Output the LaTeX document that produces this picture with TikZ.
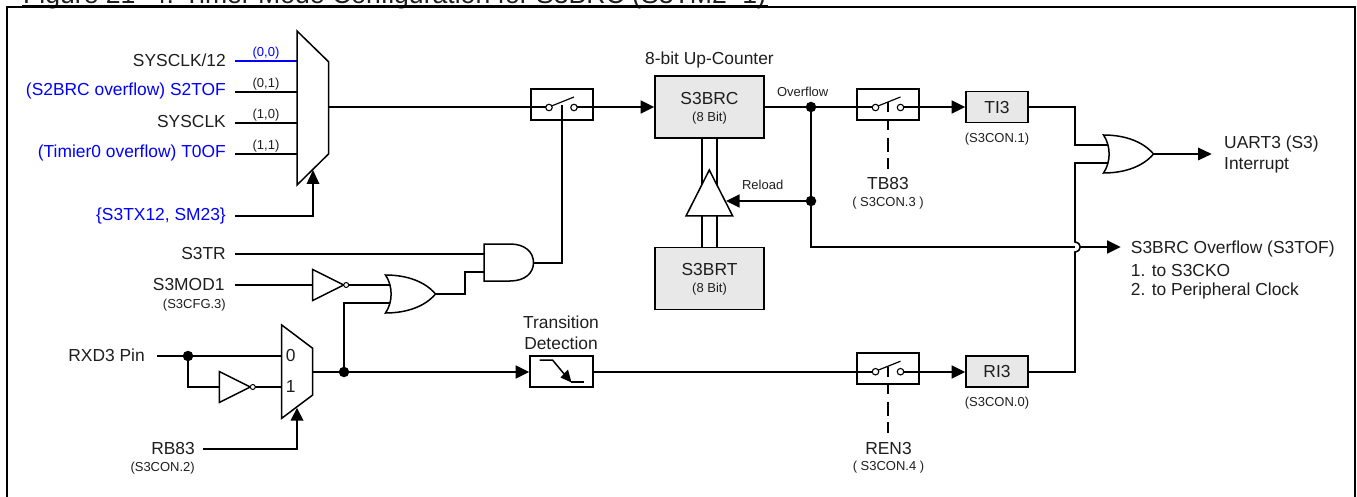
\documentclass[tikz,border=0pt]{standalone}
\usepackage{fontspec}
\setmainfont{Liberation Sans}
\usetikzlibrary{arrows.meta}
\definecolor{blu}{RGB}{0,0,255}
\definecolor{boxg}{RGB}{232,232,232}
\definecolor{txt}{RGB}{30,30,30}
\tikzset{
  x=1pt,y=-1pt,
  wire/.style={line width=1.6pt,black},
  arr/.style={wire,-{Triangle[length=13.5pt,width=13pt]}},
  gate/.style={line width=1.5pt,draw=black,fill=white,line join=miter},
  regbox/.style={draw=black,line width=1.6pt,fill=boxg,inner sep=0pt,align=center,font=\fontsize{17.4}{20}\selectfont,text=txt},
  swbox/.style={draw=black,line width=1.6pt,minimum width=62pt,minimum height=31pt,inner sep=0pt},
  big/.style={font=\fontsize{17.4}{20}\selectfont,inner sep=0pt,text=txt},
  small/.style={font=\fontsize{13}{15}\selectfont,inner sep=0pt,text=txt},
  lab/.style={big,anchor=east},
  dot/.style={circle,fill=black,inner sep=0pt,minimum size=10.5pt},
  dashw/.style={line width=1.2pt,dash pattern=on 9pt off 8pt on 14pt off 6pt on 11pt off 30pt},
  ocirc/.style={circle,draw=black,line width=1.1pt,fill=white,inner sep=0pt,minimum size=6.5pt},
  bubble/.style={circle,draw=black,line width=1pt,fill=white,inner sep=0pt,minimum size=5pt},
}
\newcommand{\invg}[2]{%
  \draw[gate] (#1,#2-15.5) -- (#1+31,#2) -- (#1,#2+15.5) -- cycle;
  \node[bubble] at (#1+33.5,#2) {};
}
\newcommand{\orgate}[2]{%
  \draw[gate] (#1,#2-19) .. controls (#1+22,#2-19) and (#1+40,#2-12) .. (#1+50,#2)
     .. controls (#1+40,#2+12) and (#1+22,#2+19) .. (#1,#2+19)
     .. controls (#1+7.5,#2+8) and (#1+7.5,#2-8) .. (#1,#2-19) -- cycle;
}
\newcommand{\swcontacts}[2]{%
  \node[ocirc] at (#1-13,#2) {};
  \node[ocirc] at (#1+12,#2) {};
  \draw[line width=1.2pt] (#1-10.5,#2-1.5) -- (#1+12,#2-10.5);
}
\begin{document}
\begin{tikzpicture}
\useasboundingbox (0,0) rectangle (1357,497);
\begin{scope}
\clip (0,0) rectangle (1357,497);
\node[anchor=base west,font=\fontsize{26.6}{30}\selectfont,inner sep=0pt,text=txt] (title) at (23,4) {Figure 21- 4. Timer Mode Configuration for S3BRC (S3TM2=1)};
\draw[line width=3pt] (22,6.5) -- (768,6.5);
\draw[line width=2.4pt] (7,520) -- (7,7.2) -- (1354.8,7.2) -- (1354.8,520);
\end{scope}

% ---- pin coordinates
\coordinate (m1a) at (297,61);
\coordinate (m1b) at (297,92);
\coordinate (m1c) at (297,123);
\coordinate (m1d) at (297,154);
\coordinate (m1out) at (328.5,107);
\coordinate (m1sel) at (313,170);
\coordinate (w0) at (235,61);
\coordinate (w1) at (235,92);
\coordinate (w2) at (235,123);
\coordinate (w3) at (235,154);
\coordinate (ws) at (235,216);
\coordinate (m2a) at (282,356);
\coordinate (m2b) at (282,387);
\coordinate (m2out) at (312.5,372);
\coordinate (m2sel) at (297,408);
\coordinate (hopt) at (1075,242);
\coordinate (hopb) at (1075,252);
\coordinate (hopr) at (1081,247);

% ---- switch boxes and registers (behind wires)
\node[swbox] (sw1) at (562,104.3) {};
\node[swbox] (sw2) at (888,104.3) {};
\node[swbox] (sw3) at (888,368.5) {};
\node[regbox,minimum width=109pt,minimum height=62pt] (brc) at (709.5,107.2) {};
\node[regbox,minimum width=109pt,minimum height=62pt] (brt) at (709.5,278.3) {};
\node[regbox,minimum width=62pt,minimum height=31pt] (ti) at (997,107.2) {TI3};
\node[regbox,minimum width=62pt,minimum height=31pt] (ri) at (997,371.5) {RI3};
\node[draw=black,line width=1.6pt,minimum width=63pt,minimum height=31pt,inner sep=0pt,fill=white] (td) at (561.5,371.5) {};

% ---- labels
\node[lab] (i0) at (226,60) {SYSCLK/12};
\node[lab,text=blu] (i1) at (226,90.7) {(S2BRC overflow) S2TOF};
\node[lab] (i2) at (226,122) {SYSCLK};
\node[lab,text=blu] (i3) at (226,153) {(Timier0 overflow) T0OF};
\node[lab,text=blu] (sel) at (226,216) {\{S3TX12, SM23\}};
\node[small,text=blu] (t00) at (266,53.3) {(0,0)};
\node[small] (t01) at (266,84) {(0,1)};
\node[small] (t10) at (266,115) {(1,0)};
\node[small] (t11) at (266,146) {(1,1)};
\node[big] (brct) at (709.5,99) {S3BRC};
\node[small] (brcs) at (709.5,117.7) {(8 Bit)};
\node[big] (upc) at (709.5,60) {8-bit Up-Counter};
\node[big] (brtt) at (709.5,270) {S3BRT};
\node[small] (brts) at (709.5,289) {(8 Bit)};
\node[small] (rel) at (762.7,184.7) {Reload};
\node[small] (ovf) at (802.7,91.7) {Overflow};
\node[big] (tb) at (888,183.5) {TB83};
\node[small] (tbs) at (888,203) {( S3CON.3 )};
\node[big] (ren) at (888.5,449) {REN3};
\node[small] (rens) at (888.5,467.3) {( S3CON.4 )};
\node[small] (tis) at (997,139) {(S3CON.1)};
\node[small] (ris) at (997,402.7) {(S3CON.0)};
\node[big,anchor=west] (uart) at (1224,144) {UART3 (S3)};
\node[big,anchor=west] (intr) at (1224,165) {Interrupt};
\node[big,anchor=west] (tof) at (1130.7,249) {S3BRC Overflow (S3TOF)};
\node[big,anchor=west] (tof1) at (1130.7,270.5) {1. to S3CKO};
\node[big,anchor=west] (tof2) at (1130.7,291) {2. to Peripheral Clock};
\node[lab] (s3tr) at (226,254) {S3TR};
\node[lab] (s3mod) at (224.7,285) {S3MOD1};
\node[small,anchor=east] (s3cfg) at (226,305) {(S3CFG.3)};
\node[big,anchor=east] (rxd) at (145,355.7) {RXD3 Pin};
\node[lab] (rb) at (195,449) {RB83};
\node[small,anchor=east] (rbs) at (195,468) {(S3CON.2)};
\node[big] (trn1) at (561,322) {Transition};
\node[big] (trn2) at (561,343) {Detection};

% ---- wires under gates
\draw[wire,blu] (w0) -- (m1a);
\draw[wire] (w1) -- (m1b);
\draw[wire] (w2) -- (m1c);
\draw[wire] (w3) -- (m1d);
\draw[wire] (m1out) -- (549,107);
\draw[wire] (574,107) -- (593,107);
\draw[arr] (593,107) -- (brc.west |- 0,107);
\draw[wire] (brc.east |- 0,107) -- (876,107);
\draw[wire] (901,107) -- (919,107);
\draw[arr] (919,107) -- (ti.west |- 0,107);
\draw[wire] (ti.east |- 0,107) -- (1075,107) -- (1075,145) -- (1110,145);
\draw[wire] (1110,163) -- (1075,163) -- (hopt) .. controls (1082,243) and (1082,251) .. (hopb) -- (1075,372) -- (ri.east |- 0,372);
\draw[wire] (811,107) -- (811,247) -- (1075,247);
\draw[arr] (hopr) -- (1120.7,247);
\draw[wire] (702,138) -- (702,248);
\draw[wire] (717,138) -- (717,248);
\draw[wire] (235,254) -- (484,254);
\draw[wire] (235,285) -- (313,285);
\draw[wire] (349,285) -- (392,285);
\draw[wire] (344,372) -- (344,303) -- (392,303);
\draw[wire] (435,294) -- (465,294) -- (465,272) -- (484,272);
\draw[wire] (533.5,263) -- (562,263) -- (562,105);
\draw[wire] (157,356) -- (m2a);
\draw[wire] (188,356) -- (188,387) -- (219.5,387);
\draw[wire] (253,387) -- (m2b);
\draw[wire] (td.east |- 0,372) -- (876,372);
\draw[wire] (901,372) -- (919,372);
\draw[arr] (919,372) -- (ri.west |- 0,372);
\draw[wire] (888,102) -- (888,112);
\draw[wire] (888,367) -- (888,377);

% ---- muxes and gates
\draw[gate] (297,31) -- (328.5,61.7) -- (328.5,154) -- (297,185) -- cycle;
\draw[gate] (281.7,325) -- (312.7,348.3) -- (312.7,395) -- (281.7,418.3) -- cycle;
\draw[gate] (709.3,170) -- (732.7,216) -- (686,216) -- cycle;
\invg{312.7}{285}
\invg{219.3}{387}
\orgate{1103.5}{154}
\orgate{385.5}{294}
\draw[gate] (484,244) -- (510,244) .. controls (525,244) and (533.5,252) .. (533.5,262.7) .. controls (533.5,273) and (525,281) .. (510,281) -- (484,281) -- cycle;

% ---- switches
\swcontacts{562}{107.5}
\swcontacts{888.5}{107.5}
\swcontacts{888.5}{371.7}
\draw[dashw] (888,121) -- (888,170);
\draw[dashw] (888,385) -- (888,434);

% ---- arrows over gates
\draw[wire] (ws) -- (313,216) -- (313,184);
\fill (313,170) -- (306.5,184) -- (319.5,184) -- cycle;
\draw[wire] (203,449) -- (297,449) -- (297,420);
\fill (m2sel) -- (290.5,420.5) -- (303.5,420.5) -- cycle;
\draw[arr] (811,201) -- (726,201);
\draw[wire] (1153,154) -- (1200,154);
\fill (1211.7,154) -- (1198,147.5) -- (1198,160.5) -- cycle;
\draw[arr] (m2out) -- (td.west |- 0,372);
\node[big] (sel0) at (290.7,356) {0};
\node[big] (sel1) at (290.7,386.5) {1};

% ---- dots
\node[dot] (d1) at (811,107) {};
\node[dot] (d2) at (811,201) {};
\node[dot] (d3) at (188,356) {};
\node[dot] (d4) at (344,372) {};

% ---- edge icon
\draw[line width=1.5pt] (539.5,360) -- (552.5,360) -- (565,375);
\draw[line width=1.5pt] (571,382) -- (584,382);
\fill (571.5,382.5) -- (560.5,377.5) -- (568,369.5) -- cycle;
\end{tikzpicture}
\end{document}
